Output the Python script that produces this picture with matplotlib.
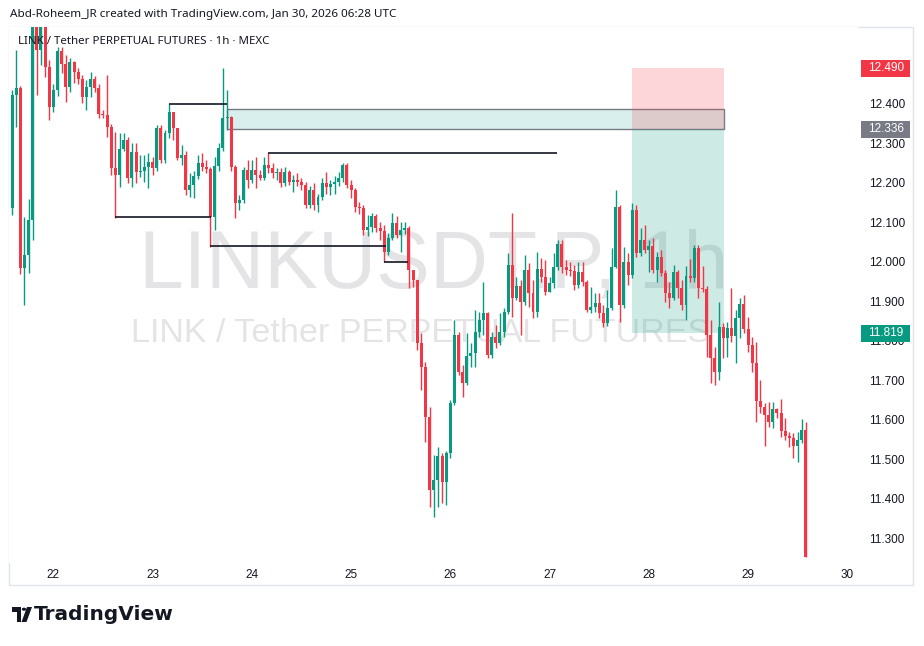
import matplotlib
matplotlib.use("Agg")
import matplotlib.pyplot as plt
from matplotlib.patches import Rectangle, Polygon, Circle

# hourly LINK/USDT candles, index 0 = first visible bar (Jan 21 14:00)
first_open = 12.137
closes = [
    12.423, 12.44, 11.985, 12.018, 12.106, 12.62, 12.537, 12.63, 12.494, 12.392,
    12.435, 12.534, 12.501, 12.443, 12.506, 12.481, 12.463, 12.418, 12.443, 12.463,
    12.44, 12.374, 12.372, 12.342, 12.238, 12.22, 12.286, 12.309, 12.212, 12.278,
    12.228, 12.23, 12.24, 12.253, 12.238, 12.339, 12.258, 12.327, 12.38, 12.339,
    12.263, 12.271, 12.182, 12.195, 12.218, 12.25, 12.24, 12.235, 12.114, 12.243,
    12.289, 12.365, 12.367, 12.24, 12.149, 12.157, 12.233, 12.207, 12.233, 12.22,
    12.212, 12.245, 12.238, 12.225, 12.228, 12.2, 12.228, 12.202, 12.207, 12.202,
    12.195, 12.144, 12.182, 12.144, 12.165, 12.2, 12.19, 12.197, 12.202, 12.212,
    12.245, 12.195, 12.182, 12.139, 12.136, 12.081, 12.088, 12.116, 12.086, 12.078,
    12.025, 12.061, 12.099, 12.068, 12.081, 12.086, 11.98, 11.954, 11.795, 11.734,
    11.607, 11.422, 11.448, 11.509, 11.443, 11.516, 11.643, 11.815, 11.721, 11.693,
    11.762, 11.77, 11.823, 11.853, 11.871, 11.764, 11.81, 11.795, 11.823, 11.873,
    11.992, 11.909, 11.939, 11.899, 11.98, 11.921, 11.873, 11.982, 11.962, 11.924,
    11.947, 11.987, 12.045, 11.987, 11.98, 11.977, 11.941, 11.974, 11.949, 11.878,
    11.886, 11.896, 11.871, 11.845, 11.883, 11.987, 12.139, 11.891, 12.0, 11.967,
    12.131, 12.023, 12.055, 12.03, 12.04, 11.98, 12.012, 11.972, 11.921, 11.909,
    11.974, 11.934, 11.891, 11.964, 11.959, 12.035, 11.934, 11.932, 11.815, 11.757,
    11.721, 11.835, 11.808, 11.833, 11.813, 11.858, 11.893, 11.83, 11.79, 11.744,
    11.648, 11.633, 11.612, 11.595, 11.628, 11.617, 11.572, 11.559, 11.554, 11.534,
    11.549, 11.574, 11.253,
]
highs = [
    12.435, 12.537, 12.445, 12.114, 12.16, 12.65, 12.66, 12.66, 12.65, 12.511,
    12.45, 12.544, 12.544, 12.524, 12.516, 12.51, 12.49, 12.473, 12.46, 12.481,
    12.47, 12.45, 12.385, 12.473, 12.35, 12.329, 12.326, 12.326, 12.316, 12.301,
    12.3, 12.27, 12.27, 12.276, 12.265, 12.347, 12.347, 12.334, 12.40, 12.38,
    12.34, 12.296, 12.28, 12.225, 12.23, 12.27, 12.276, 12.258, 12.24, 12.265,
    12.30, 12.491, 12.435, 12.37, 12.245, 12.17, 12.24, 12.258, 12.258, 12.265,
    12.233, 12.265, 12.276, 12.25, 12.238, 12.238, 12.24, 12.233, 12.22, 12.225,
    12.212, 12.202, 12.192, 12.2, 12.172, 12.212, 12.228, 12.207, 12.217, 12.228,
    12.25, 12.25, 12.207, 12.187, 12.152, 12.144, 12.119, 12.124, 12.121, 12.101,
    12.093, 12.073, 12.124, 12.116, 12.101, 12.101, 12.091, 11.975, 11.95, 11.82,
    11.747, 11.633, 11.511, 11.531, 11.516, 11.52, 11.65, 11.853, 11.823, 11.739,
    11.82, 11.795, 11.878, 11.873, 11.95, 11.873, 11.823, 11.84, 11.871, 11.883,
    12.023, 12.124, 11.962, 11.954, 12.018, 11.997, 11.954, 12.025, 12.01, 12.005,
    11.962, 12.023, 12.055, 12.055, 12.005, 12.0, 11.992, 12.0, 12.0, 11.954,
    11.937, 11.921, 11.921, 11.891, 11.93, 12.035, 12.182, 12.144, 12.038, 12.023,
    12.149, 12.144, 12.086, 12.093, 12.055, 12.061, 12.025, 12.03, 11.98, 11.949,
    11.992, 11.98, 11.954, 11.99, 12.007, 12.043, 12.043, 11.99, 11.94, 11.853,
    11.785, 11.899, 11.845, 11.848, 11.934, 11.878, 11.909, 11.916, 11.86, 11.81,
    11.797, 11.701, 11.643, 11.645, 11.645, 11.63, 11.653, 11.605, 11.57, 11.567,
    11.57, 11.602, 11.595,
]
lows = [
    12.119, 12.342, 11.97, 11.891, 11.972, 12.055, 12.423, 12.50, 12.468, 12.359,
    12.38, 12.42, 12.478, 12.405, 12.43, 12.453, 12.45, 12.402, 12.385, 12.418,
    12.43, 12.364, 12.364, 12.316, 12.22, 12.111, 12.19, 12.28, 12.2, 12.19,
    12.2, 12.215, 12.202, 12.187, 12.22, 12.23, 12.25, 12.25, 12.314, 12.31,
    12.258, 12.245, 12.17, 12.165, 12.162, 12.21, 12.23, 12.225, 12.038, 12.081,
    12.23, 12.28, 12.334, 12.23, 12.111, 12.131, 12.15, 12.187, 12.2, 12.187,
    12.207, 12.207, 12.225, 12.212, 12.207, 12.19, 12.192, 12.195, 12.177, 12.192,
    12.182, 12.136, 12.136, 12.131, 12.126, 12.157, 12.172, 12.17, 12.172, 12.192,
    12.202, 12.187, 12.162, 12.126, 12.121, 12.068, 12.066, 12.076, 12.076, 12.055,
    12.0, 12.018, 12.055, 12.061, 12.025, 12.071, 11.934, 11.937, 11.777, 11.676,
    11.544, 11.38, 11.354, 11.38, 11.39, 11.385, 11.503, 11.638, 11.714, 11.658,
    11.688, 11.734, 11.734, 11.81, 11.815, 11.757, 11.757, 11.782, 11.79, 11.81,
    11.868, 11.86, 11.904, 11.815, 11.891, 11.886, 11.858, 11.86, 11.949, 11.916,
    11.924, 11.934, 11.98, 11.972, 11.967, 11.964, 11.929, 11.934, 11.939, 11.873,
    11.871, 11.873, 11.858, 11.835, 11.838, 11.878, 11.985, 11.848, 11.883, 11.942,
    11.959, 12.013, 12.015, 12.023, 11.975, 11.972, 11.949, 11.964, 11.899, 11.883,
    11.904, 11.909, 11.878, 11.853, 11.949, 11.949, 11.909, 11.924, 11.759, 11.693,
    11.688, 11.701, 11.757, 11.759, 11.797, 11.744, 11.807, 11.82, 11.772, 11.721,
    11.595, 11.617, 11.534, 11.582, 11.579, 11.605, 11.557, 11.549, 11.531, 11.504,
    11.493, 11.541, 11.253,
]

day_ticks = [10, 34, 58, 82, 106, 130, 154, 178, 202]
day_labels = ["22", "23", "24", "25", "26", "27", "28", "29", "30"]
price_ticks = [11.3, 11.4, 11.5, 11.6, 11.7, 11.8, 11.9, 12.0, 12.1, 12.2, 12.3, 12.4, 12.5]

# drawings: (start bar, end bar, price)
hlines = [
    (38, 52, 12.400),
    (24.9, 48.1, 12.113),
    (47.9, 90.4, 12.040),
    (90.0, 95.8, 12.000),
    (62.0, 131.8, 12.276),
]
zone = (52.0, 172.2, 12.336, 12.387)
pos_start, pos_end = 150.0, 172.2
stop_price, entry_price, target_price = 12.490, 12.336, 11.819

GREEN = "#089981"
RED = "#f23645"
TXT = "#131722"
W, H = 924, 646

fig = plt.figure(figsize=(W / 100, H / 100), dpi=100)
fig.patch.set_facecolor("white")
ax = fig.add_axes([9 / W, 1 - 563 / H, 849 / W, 536 / H])
ax.set_xlim(-0.73, 204.6)
ax.set_ylim(11.2375, 12.595)

opens = [first_open] + closes[:-1]
for i, (o, c, h, l) in enumerate(zip(opens, closes, highs, lows)):
    col = GREEN if c >= o else RED
    h = max(h, o, c)
    l = min(l, o, c)
    ax.vlines(i, l, h, colors=col, linewidth=1.0, zorder=3)
    body = max(abs(c - o), 0.003)
    ax.bar(i, body, bottom=min(o, c), width=0.72, color=col, linewidth=0, zorder=3)

# watermark
ax.text(0.5, 0.554, "LINKUSDT.P, 1h", transform=ax.transAxes, ha="center", va="center",
        fontsize=58, family="Liberation Sans", color="#787b86", alpha=0.2, zorder=0)
ax.text(0.485, 0.429, "LINK / Tether PERPETUAL FUTURES", transform=ax.transAxes,
        ha="center", va="center", fontsize=24.6, family="Liberation Sans",
        color="#787b86", alpha=0.2, zorder=0)

# supply zone
ax.add_patch(Rectangle((zone[0], zone[2]), zone[1] - zone[0], zone[3] - zone[2],
                       facecolor=(0.0, 0.59, 0.53, 0.15), edgecolor="#787b86",
                       linewidth=1.0, zorder=1))
# short position
ax.add_patch(Rectangle((pos_start, entry_price), pos_end - pos_start, stop_price - entry_price,
                       facecolor=RED, alpha=0.2, linewidth=0, zorder=1.2))
ax.add_patch(Rectangle((pos_start, target_price), pos_end - pos_start, entry_price - target_price,
                       facecolor=GREEN, alpha=0.2, linewidth=0, zorder=1.2))

for x0, x1, p in hlines:
    ax.plot([x0, x1], [p, p], color="#131722", linewidth=1.2, zorder=4, solid_capstyle="butt")

for s in ax.spines.values():
    s.set_visible(False)
ax.set_xticks(day_ticks)
ax.set_xticklabels(day_labels)
ax.yaxis.tick_right()
ax.set_yticks(price_ticks)
ax.set_yticklabels([f"{p:.3f}" for p in price_ticks])
ax.tick_params(axis="x", length=0, pad=4, labelsize=8.5, labelcolor=TXT)
ax.tick_params(axis="y", length=0, pad=8, labelsize=8.5, labelcolor=TXT)
for lab in ax.get_xticklabels() + ax.get_yticklabels():
    lab.set_family("Liberation Sans")

# price labels on the scale
inv = fig.transFigure.inverted()
for p, bg in [(stop_price, RED), (entry_price, "#787b86"), (target_price, GREEN)]:
    _, yd = ax.transData.transform((0, p))
    _, yf = inv.transform((0, yd))
    fig.add_artist(Rectangle((861 / W, yf - 8.5 / H), 49 / W, 17 / H,
                             transform=fig.transFigure, facecolor=bg, edgecolor="none", zorder=5))
    fig.text(868 / W, yf, f"{p:.3f}", ha="left", va="center", color="white",
             fontsize=8.5, family="Liberation Sans", zorder=6)

# frame around chart
fig.add_artist(Rectangle((9 / W, 1 - 585 / H), 904 / W, 558 / H, transform=fig.transFigure,
                         fill=False, edgecolor="#e0e3eb", linewidth=1.0, zorder=0))

fig.text(10 / W, 1 - 14 / H, "Abd-Roheem_JR created with TradingView.com, Jan 30, 2026 06:28 UTC",
         ha="left", va="center", fontsize=8.4, family="Noto Sans", color=TXT)
fig.text(18 / W, 1 - 41 / H, "LINK / Tether PERPETUAL FUTURES · 1h · MEXC",
         ha="left", va="center", fontsize=8.3, family="Noto Sans", color=TXT, zorder=6)

# TradingView logo
def fp(x, y):
    return (x / W, 1 - y / H)

fig.add_artist(Polygon([fp(12, 607), fp(21, 607), fp(21, 622), fp(16.5, 622), fp(16.5, 611.5), fp(12, 611.5)],
                       closed=True, transform=fig.transFigure, facecolor="#131722", edgecolor="none"))
fig.add_artist(Circle(fp(24, 609.2), 2.2 / W, transform=fig.transFigure, facecolor="#131722", edgecolor="none"))
fig.add_artist(Polygon([fp(27, 607), fp(32, 607), fp(26.5, 622), fp(21.5, 622)],
                       closed=True, transform=fig.transFigure, facecolor="#131722", edgecolor="none"))
fig.text(34 / W, 1 - 615 / H, "TradingView", ha="left", va="center", fontsize=14.5,
         fontweight="bold", family="DejaVu Sans", color="#131722")

fig.savefig("out.png", dpi=100)
